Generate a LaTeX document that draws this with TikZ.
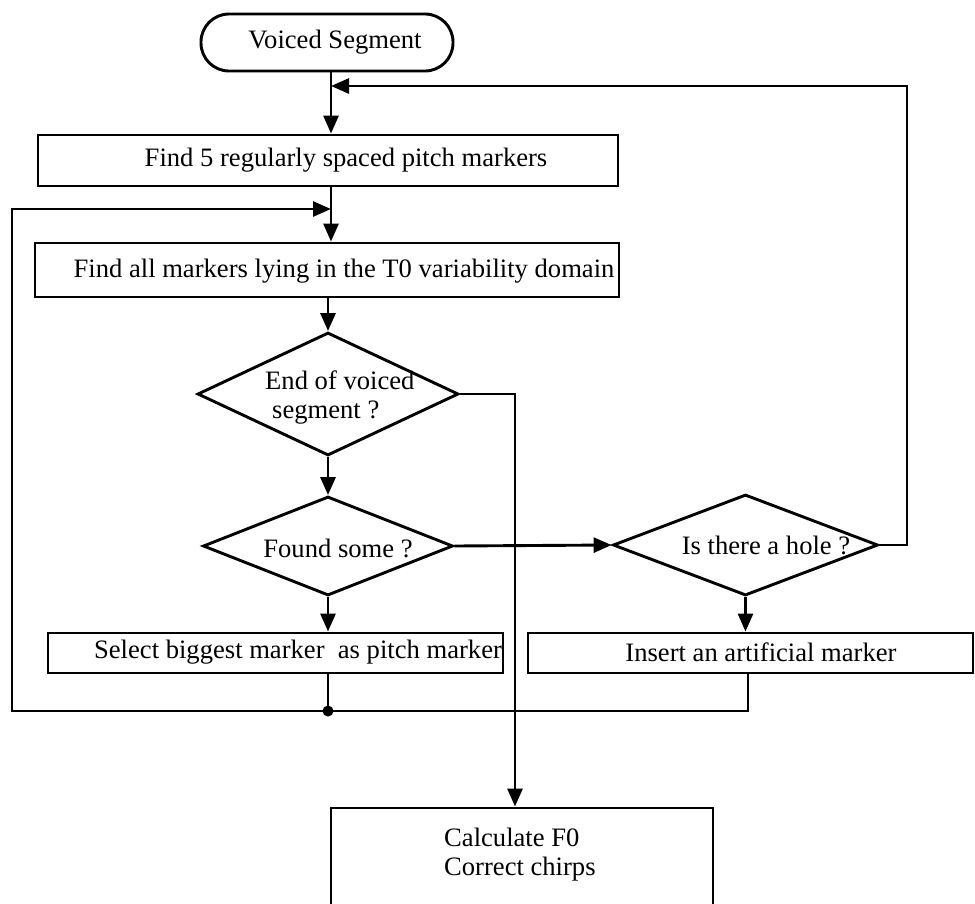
\documentclass[tikz,border=0pt]{standalone}
\usepackage{fontspec}
\setmainfont{Liberation Serif}
\usetikzlibrary{arrows.meta,shapes.geometric}

\tikzset{
  line/.style={line width=2.9pt, line join=miter},
  arr/.style={line, -{Triangle[length=18pt,width=15pt]}},
  boxshape/.style={draw, line width=2.9pt, rectangle, inner sep=0pt},
  decision/.style={draw, line width=2.9pt, diamond, aspect=2, inner sep=0pt},
  label/.style={inner sep=0pt, font=\fontsize{26.6}{31}\selectfont},
}

\begin{document}
\begin{tikzpicture}[x=1pt,y=-1pt]
  \useasboundingbox (0,0) rectangle (975,903);
  \clip (0,0) rectangle (975,903);

  % vertical guide lines of the chart
  \coordinate (axis) at (331,0);
  \coordinate (axisR) at (748,0);
  \coordinate (axisE) at (515,0);

  % start terminal
  \node[boxshape, rounded corners=28pt, minimum width=252pt, minimum height=57pt]
    (start) at (327,42.5) {};
  \node[label] (startT) at (335,42) {Voiced Segment};

  % process boxes
  \node[boxshape, minimum width=580pt, minimum height=51pt] (find5) at (328,160.5) {};
  \node[label] (find5T) at (346,160) {Find 5 regularly spaced pitch markers};

  \node[boxshape, minimum width=584pt, minimum height=54pt] (findall) at (327,270) {};
  \node[label] (findallT) at (344,271) {Find all markers lying in the T0 variability domain};

  % decisions
  \node[decision, minimum width=261pt, minimum height=123pt] (endseg) at (328,394) {};
  \node[label, anchor=west] (endsegA) at (265,380) {End of voiced};
  \node[label, anchor=west] (endsegB) at (272,413) {segment ?};

  \node[decision, minimum width=250pt, minimum height=99pt] (found) at (328,546) {};
  \node[label] (foundT) at (338,548) {Found some ?};

  \node[decision, minimum width=265pt, minimum height=101pt] (hole) at (745.5,545) {};
  \node[label] (holeT) at (766,545) {Is there a hole ?};

  % lower boxes
  \node[boxshape, minimum width=455pt, minimum height=40pt] (select) at (275.5,653) {};
  \node[label] (selectT) at (298,652) {Select biggest marker\ \ as pitch marker};

  \node[boxshape, minimum width=445pt, minimum height=40pt] (insert) at (750.5,653) {};
  \node[label] (insertT) at (761,652) {Insert an artificial marker};

  \node[boxshape, minimum width=382pt, minimum height=160pt] (final) at (522,888) {};
  \node[label, anchor=west] (finalA) at (444,837) {Calculate F0};
  \node[label, anchor=west] (finalB) at (444,869) {Correct chirps};

  % loop coordinates
  \coordinate (topR) at (907,86);
  \coordinate (topL) at (331,86);
  \coordinate (loopBL) at (12,711);
  \coordinate (loopTip) at (331,209);
  \coordinate (join) at (328,711);

  % main flow
  \draw[arr] (start.south -| axis) -- (find5.north -| axis);
  \draw[arr] (find5.south -| axis) -- (findall.north -| axis);
  \draw[arr] (findall.south -| endseg.north) -- (endseg.north);
  \draw[arr] (endseg.south) -- (found.north);
  \draw[arr] (found.south) -- (select.north -| found.south);
  \draw[arr] (found.east) -- (hole.west);
  \draw[arr] (hole.south) -- (insert.north -| hole.south);

  % exit to final computation
  \draw[arr] (endseg.east) -| (final.north -| axisE);

  % return loop from the hole test
  \draw[arr] (hole.east) -| (topR) -- (topL);

  % return loop after placing a marker
  \draw[line] (select.south -| join) -- (join);
  \draw[arr] (insert.south -| axisR) |- (loopBL) |- (loopTip);
  \fill (join) circle (5.5pt);
\end{tikzpicture}
\end{document}
